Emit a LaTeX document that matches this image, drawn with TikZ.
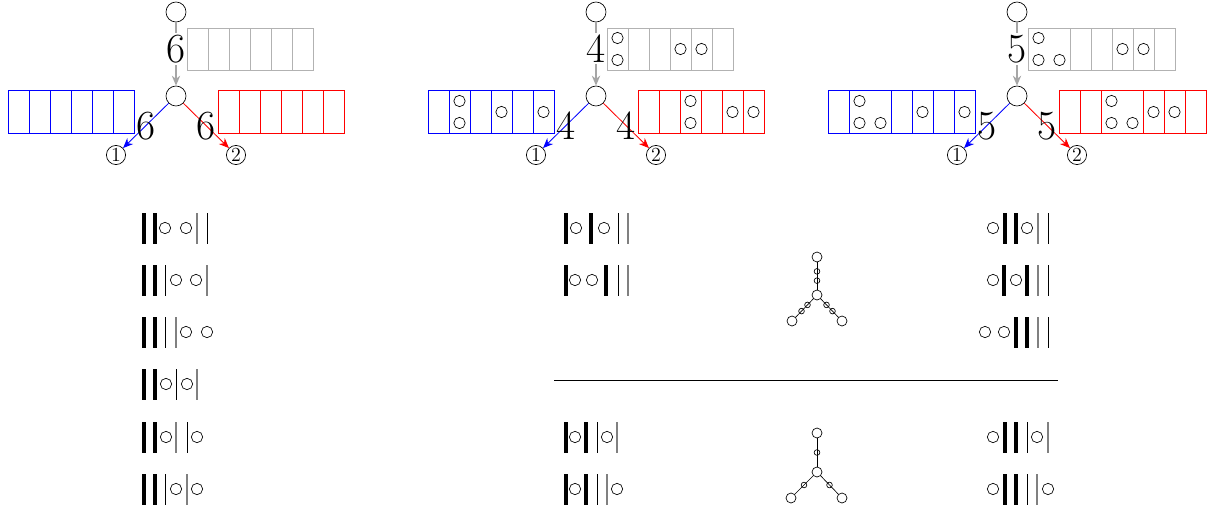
\documentclass[tikz,border=0pt]{standalone}
\usepackage{xcolor}
\usepackage{tikz}
\usetikzlibrary{arrows.meta, positioning, calc}

\begin{document}
\begin{tikzpicture}[
  x=0.6pt, y=-0.6pt,
  vertex/.style={circle, draw, minimum size=12pt, inner sep=0pt},
  leafmark/.style={circle, draw, minimum size=11.5pt, inner sep=0pt, font=\large},
  ball/.style={circle, draw, minimum size=6.8pt, inner sep=0pt},
  tbar/.style={rectangle, fill=black, minimum width=2.4pt, minimum height=18.6pt, inner sep=0pt},
  nbar/.style={rectangle, fill=black, minimum width=0.6pt, minimum height=18.6pt, inner sep=0pt},
  gbar/.style={rectangle, fill=gray, minimum width=0.7pt, minimum height=18.6pt, inner sep=0pt},
  graybox/.style={draw=gray!60, line width=0.5pt},
  bluebox/.style={draw=blue, line width=0.5pt},
  redbox/.style={draw=red, line width=0.5pt},
  grayedge/.style={draw=gray!70, line width=0.8pt, -{Stealth[length=6pt, width=5pt]}},
  blueedge/.style={draw=blue, line width=0.5pt, -{Stealth[length=6pt, width=5pt]}},
  rededge/.style={draw=red, line width=0.5pt, -{Stealth[length=6pt, width=5pt]}},
  edgenum/.style={font=\Huge, inner sep=1pt},
  bigball/.style={circle, draw, minimum size=6pt, inner sep=0pt},
  tinyball/.style={circle, draw, minimum size=3.4pt, inner sep=0pt}
]
  \useasboundingbox (0,0) rectangle (1212,511);

  % first tree, six
  \begin{scope}[shift={(176,0)}]
    \node[vertex] (rootA) at (0,12) {};
    \node[vertex] (midA) at (0,96) {};
    \node[leafmark] (oneA) at (-60,155) {1};
    \node[leafmark] (twoA) at (60,155) {2};
    \draw[graybox] (11,28) rectangle (137,70);
    \foreach \d in {32,53,74,95,116} \draw[graybox] (\d,28) -- (\d,70);
    \draw[bluebox] (-168,90) rectangle (-42,133);
    \foreach \d in {-147,-126,-105,-84,-63} \draw[bluebox] (\d,90) -- (\d,133);
    \draw[redbox] (42,90) rectangle (168,133);
    \foreach \d in {63,84,105,126,147} \draw[redbox] (\d,90) -- (\d,133);
    \draw[grayedge] (rootA) -- node[edgenum, pos=0.42, fill=white] {6} (midA);
    \draw[blueedge] (midA) -- node[edgenum] {6} (oneA);
    \draw[rededge] (midA) -- node[edgenum] {6} (twoA);
  \end{scope}

  % second tree, four
  \begin{scope}[shift={(596,0)}]
    \node[vertex] (rootB) at (0,12) {};
    \node[vertex] (midB) at (0,96) {};
    \node[leafmark] (oneB) at (-60,155) {1};
    \node[leafmark] (twoB) at (60,155) {2};
    \draw[graybox] (11,28) rectangle (137,70);
    \foreach \d in {32,53,74,95,116} \draw[graybox] (\d,28) -- (\d,70);
    \draw[bluebox] (-168,90) rectangle (-42,133);
    \foreach \d in {-147,-126,-105,-84,-63} \draw[bluebox] (\d,90) -- (\d,133);
    \draw[redbox] (42,90) rectangle (168,133);
    \foreach \d in {63,84,105,126,147} \draw[redbox] (\d,90) -- (\d,133);
    \foreach \x/\y in {21.5/38, 21.5/60, 84.5/49, 105.5/49} \node[ball] (gB\x-\y) at (\x,\y) {};
    \foreach \x/\y in {-136.5/101, -136.5/123, -94.5/112, -52.5/112} \node[ball] (bB\x-\y) at (\x,\y) {};
    \foreach \x/\y in {94.5/101, 94.5/123, 136.5/112, 157.5/112} \node[ball] (rB\x-\y) at (\x,\y) {};
    \draw[grayedge] (rootB) -- node[edgenum, pos=0.42, fill=white] {4} (midB);
    \draw[blueedge] (midB) -- node[edgenum] {4} (oneB);
    \draw[rededge] (midB) -- node[edgenum] {4} (twoB);
  \end{scope}

  % third tree, five
  \begin{scope}[shift={(1017,0)}]
    \node[vertex] (rootC) at (0,12) {};
    \node[vertex] (midC) at (0,96) {};
    \node[leafmark] (oneC) at (-60,155) {1};
    \node[leafmark] (twoC) at (60,155) {2};
    \draw[graybox] (11,28) rectangle (158,70);
    \foreach \d in {53,74,95,116,137} \draw[graybox] (\d,28) -- (\d,70);
    \draw[bluebox] (-189,90) rectangle (-42,133);
    \foreach \d in {-168,-126,-105,-84,-63} \draw[bluebox] (\d,90) -- (\d,133);
    \draw[redbox] (42,90) rectangle (189,133);
    \foreach \d in {63,84,126,147,168} \draw[redbox] (\d,90) -- (\d,133);
    \foreach \x/\y in {21.5/38, 21.5/60, 42.5/60, 105.5/49, 126.5/49} \node[ball] (gC\x-\y) at (\x,\y) {};
    \foreach \x/\y in {-157.5/101, -157.5/123, -136.5/123, -94.5/112, -52.5/112} \node[ball] (bC\x-\y) at (\x,\y) {};
    \foreach \x/\y in {94.5/101, 94.5/123, 115.5/123, 136.5/112, 157.5/112} \node[ball] (rC\x-\y) at (\x,\y) {};
    \draw[grayedge] (rootC) -- node[edgenum, pos=0.42, fill=white] {5} (midC);
    \draw[blueedge] (midC) -- node[edgenum] {5} (oneC);
    \draw[rededge] (midC) -- node[edgenum] {5} (twoC);
  \end{scope}

  % left column
  \foreach \k/\x in {tbar/144, tbar/155, ball/165, ball/186, gbar/197, nbar/207} \node[\k] (La\x) at (\x,228) {};
  \foreach \k/\x in {tbar/144, tbar/155, nbar/165, ball/176, ball/196, gbar/207} \node[\k] (Lb\x) at (\x,280) {};
  \foreach \k/\x in {tbar/144, tbar/155, nbar/165, gbar/176, ball/186, ball/207} \node[\k] (Lc\x) at (\x,332) {};
  \foreach \k/\x in {tbar/144, tbar/155, ball/166, nbar/176, ball/187, gbar/197} \node[\k] (Ld\x) at (\x,384) {};
  \foreach \k/\x in {tbar/144, tbar/155, ball/166, gbar/176, nbar/187, ball/197} \node[\k] (Le\x) at (\x,437) {};
  \foreach \k/\x in {tbar/144, tbar/155, nbar/165, ball/176, gbar/187, ball/197} \node[\k] (Lf\x) at (\x,489) {};

  % middle column
  \foreach \k/\x in {tbar/566, ball/576, tbar/591, ball/604, nbar/618, gbar/628} \node[\k] (Ma\x) at (\x,228) {};
  \foreach \k/\x in {tbar/566, ball/575, ball/592, tbar/606, nbar/618, gbar/628} \node[\k] (Mb\x) at (\x,280) {};
  \foreach \k/\x in {tbar/566, ball/575, tbar/586, nbar/597, ball/607, gbar/617} \node[\k] (Me\x) at (\x,437) {};
  \foreach \k/\x in {tbar/566, ball/575, tbar/586, nbar/597, gbar/607, ball/617} \node[\k] (Mf\x) at (\x,489) {};

  % right column
  \foreach \k/\x in {ball/993, tbar/1005, tbar/1016, ball/1027, gbar/1038, nbar/1048} \node[\k] (Ra\x) at (\x,228) {};
  \foreach \k/\x in {ball/993, tbar/1004, ball/1016, tbar/1027, gbar/1038, nbar/1048} \node[\k] (Rb\x) at (\x,280) {};
  \foreach \k/\x in {ball/985, ball/1004, tbar/1016, tbar/1027, gbar/1038, nbar/1048} \node[\k] (Rc\x) at (\x,332) {};
  \foreach \k/\x in {ball/993, tbar/1005, tbar/1016, nbar/1027, ball/1037, gbar/1048} \node[\k] (Re\x) at (\x,437) {};
  \foreach \k/\x in {ball/993, tbar/1005, tbar/1016, nbar/1027, gbar/1037, ball/1048} \node[\k] (Rf\x) at (\x,489) {};

  % separator
  \coordinate (ruleL) at (554,380);
  \coordinate (ruleR) at (1058,380);
  \draw (ruleL) -- (ruleR);

  % small trees
  \node[bigball] (hubU) at (817,295) {};
  \node[bigball] (topU) at (817,257) {};
  \node[bigball] (leftU) at (792,321) {};
  \node[bigball] (rightU) at (842,321) {};
  \draw (hubU) -- node[tinyball, pos=0.33] (tu1) {} node[tinyball, pos=0.67] (tu2) {} (topU);
  \draw (hubU) -- node[tinyball, pos=0.33] (tu3) {} node[tinyball, pos=0.67] (tu4) {} (leftU);
  \draw (hubU) -- node[tinyball, pos=0.33] (tu5) {} node[tinyball, pos=0.67] (tu6) {} (rightU);

  \node[bigball] (hubD) at (817,472) {};
  \node[bigball] (topD) at (817,433) {};
  \node[bigball] (leftD) at (791,498) {};
  \node[bigball] (rightD) at (842,498) {};
  \draw (hubD) -- node[tinyball] (td1) {} (topD);
  \draw (hubD) -- node[tinyball] (td2) {} (leftD);
  \draw (hubD) -- node[tinyball] (td3) {} (rightD);
\end{tikzpicture}
\end{document}
